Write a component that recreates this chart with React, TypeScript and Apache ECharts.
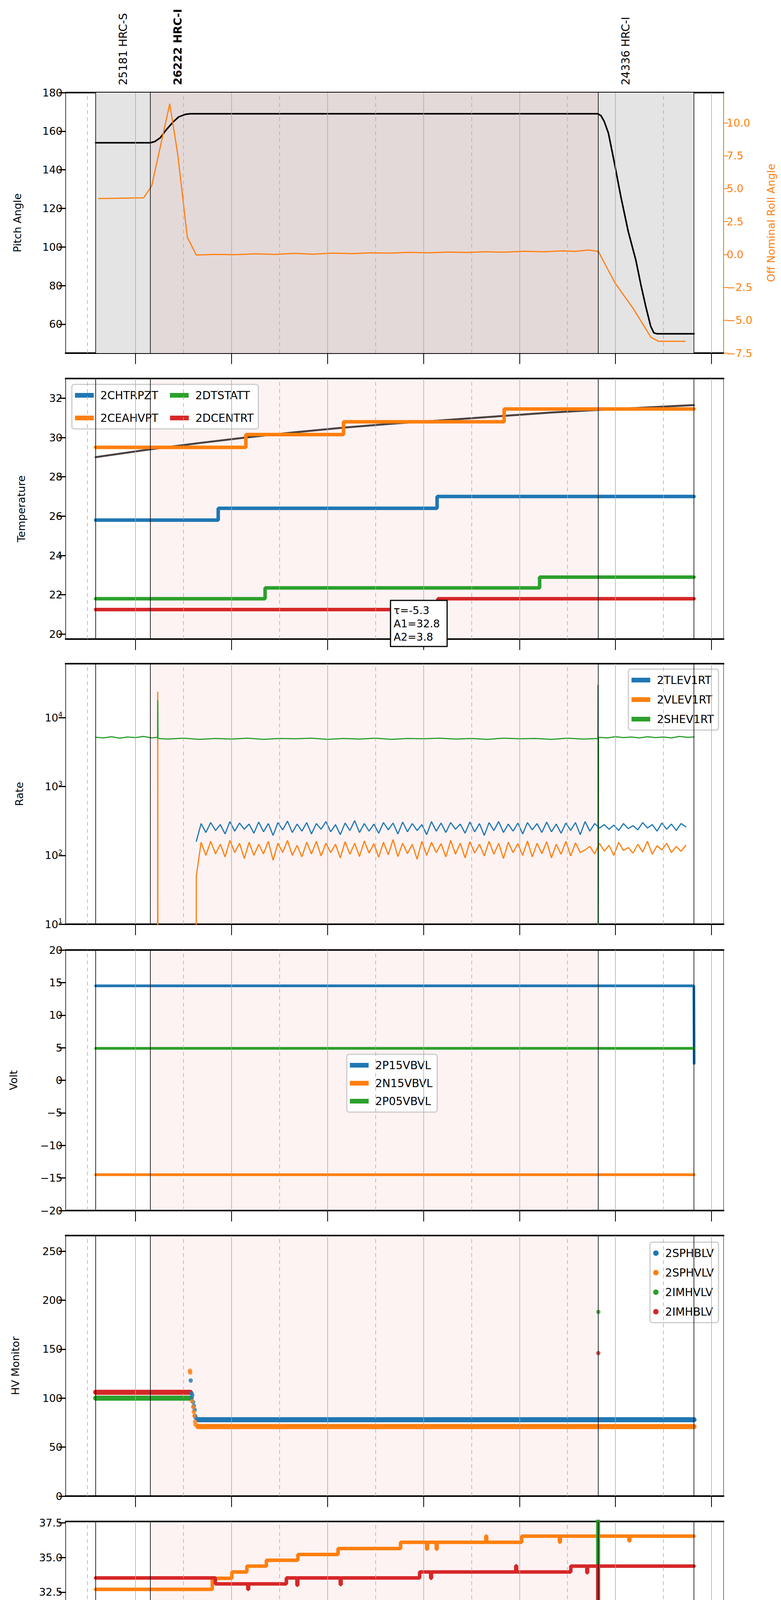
import React from "react";
import * as echarts from "echarts";

// ---- time axis (minutes after 00:00 on 2021-12-10) ----
const X_MIN = 76.3;
const X_MAX = 487.6;
const HOURS = [120, 180, 240, 300, 360, 420, 480];
const HALF_HOURS = [90, 150, 210, 270, 330, 390, 450];
const EVENT_LINES = [95.1, 129.3, 409.3, 469.1];
const PINK_SPAN = [129.3, 409.3];
const GRAY_SPAN = [95.1, 469.1];
const OBSIDS = [
  { t: 95.1, label: "25181 HRC-S", bold: false },
  { t: 129.3, label: "26222 HRC-I", bold: true },
  { t: 409.3, label: "24336 HRC-I", bold: false },
];

// ---- panel 1: pitch / roll ----
const pitch = [
  [95.1, 154], [129.2, 154], [132, 154.6], [135.5, 156.6], [139, 160.5], [143.3, 164.6], [147, 167.4],
  [151.1, 168.7], [154.2, 169], [409, 169], [411, 168], [413, 165], [415.6, 159], [419, 145], [423.4, 126],
  [428, 108], [432.8, 93], [436, 80], [439, 69], [442, 59], [444, 55.5], [446, 55], [469.1, 55],
];
const roll = [
  [97, 4.25], [125.1, 4.3], [130.1, 5.2], [141.4, 11.45], [146.4, 7.6], [150.2, 3.6], [152.4, 1.3], [158, -0.05],
  [170, 0.0], [182, -0.02], [195, 0.05], [207, 0.0], [219, 0.08], [231, 0.02], [243, 0.1], [255, 0.06],
  [267, 0.12], [279, 0.1], [291, 0.16], [303, 0.12], [315, 0.18], [327, 0.15], [339, 0.2], [351, 0.17],
  [363, 0.24], [375, 0.2], [387, 0.27], [395, 0.23], [403.1, 0.34], [409.3, 0.23], [419.7, -2.16],
  [431.3, -4.15], [442.2, -6.3], [446.9, -6.6], [463.5, -6.6],
];

// ---- panel 2: temperatures ----
const t2CHTRPZT = [[95.1, 25.8], [171.7, 26.4], [308.5, 27.0], [469.1, 27.0]];
const t2CEAHVPT = [[95.1, 29.5], [189, 30.15], [250, 30.8], [350.4, 31.45], [469.1, 31.45]];
const t2DTSTATT = [[95.1, 21.8], [201, 22.35], [372.6, 22.9], [469.1, 22.9]];
const t2DCENTRT = [[95.1, 21.25], [309, 21.8], [469.1, 21.8]];
const tempFit = [
  [95.1, 29.0], [129.2, 29.4], [160, 29.72], [189, 30.0], [220, 30.27], [250, 30.5], [280, 30.7],
  [309, 30.86], [350, 31.1], [380, 31.27], [409, 31.4], [440, 31.53], [469.1, 31.65],
];
const FIT_TEXT = ["τ=-5.3", "A1=32.8", "A2=3.8"];

// ---- panel 3: rates ----
const RATE_START = 158;
const RATE_STEP = 3;
const rateTLEV = [
  160, 290, 215, 300, 230, 280, 205, 310, 225, 295, 240, 285, 210, 305, 220, 290, 195, 300, 235, 315,
  215, 285, 225, 300, 205, 290, 240, 310, 220, 280, 200, 295, 230, 320, 215, 290, 225, 285, 210, 300,
  235, 295, 205, 305, 220, 290, 230, 280, 200, 310, 225, 295, 215, 300, 240, 285, 210, 305, 220, 290,
  195, 300, 230, 310, 215, 285, 225, 295, 205, 300, 235, 290, 215, 305, 220, 285, 210, 295, 230, 300,
  200, 310, 225, 290, 250, 280, 240, 275, 230, 290, 245, 270, 235, 300, 250, 280, 225, 295, 240, 285,
  230, 290, 260,
];
const rateVLEV = [
  50, 155, 100, 160, 105, 145, 95, 165, 110, 150, 90, 155, 100, 145, 105, 160, 85, 150, 110, 165,
  100, 140, 95, 155, 105, 160, 98, 150, 110, 145, 92, 158, 104, 150, 96, 162, 108, 148, 94, 155,
  102, 170, 96, 150, 106, 145, 88, 160, 100, 155, 110, 148, 95, 165, 104, 150, 92, 158, 108, 145,
  98, 160, 104, 150, 90, 155, 110, 148, 100, 162, 95, 150, 106, 158, 92, 145, 104, 160, 98, 152,
  110, 120, 135, 105, 150, 115, 140, 100, 155, 118, 130, 108, 145, 112, 160, 104, 138, 120, 150, 110,
  135, 115, 140,
];
const rateSHEV = [
  [95.1, 5200], [100, 5100], [105, 5300], [110, 5050], [115, 5250], [120, 5150], [125, 5350], [130, 5100],
  [133.8, 5200], [133.9, 18000], [134.1, 5000], [140, 4900], [150, 5050], [160, 4850], [170, 5000],
  [180, 4900], [190, 5050], [200, 4850], [210, 5000], [220, 4950], [230, 5050], [240, 4850], [250, 5000],
  [260, 4900], [270, 5050], [280, 4850], [290, 5000], [300, 4950], [310, 5050], [320, 4900], [330, 5000],
  [340, 4850], [350, 5050], [360, 4950], [370, 5000], [380, 4850], [390, 5050], [400, 4900], [409, 5000],
  [409.1, 30000], [409.2, 1], [409.4, 5200], [415, 5100], [420, 5300], [425, 5150], [430, 5250],
  [435, 5100], [440, 5300], [445, 5150], [450, 5250], [455, 5100], [460, 5350], [465, 5200], [469.1, 5250],
];
const VLEV_SPIKE = [[133.8, 1], [133.9, 24000], [134, 1], [157.9, 1]];

// ---- panel 4: voltages ----
const v2P15 = [[95.1, 14.5], [469, 14.5], [469.2, 2.6]];
const v2N15 = [[95.1, -14.5], [469.1, -14.5]];
const v2P05 = [[95.1, 4.9], [469.1, 4.9]];

// ---- panel 5: HV monitor ----
const hvSPHBLV = [[159, 78], [469.1, 78]];
const hvSPHVLV = [[159, 71], [469.1, 71]];
const hvIMHVLV = [[95.1, 100], [154.2, 100]];
const hvIMHBLV = [[95.1, 106], [154.2, 106]];
const dotsSPHBLV = [[154.5, 118], [155, 105], [155.2, 100], [155.5, 103], [156, 96], [156.5, 92], [157, 88], [157.3, 82], [157.6, 80]];
const dotsSPHVLV = [[154, 128], [154.2, 126], [155.4, 97], [156, 91], [156.4, 86], [156.8, 82], [157.2, 76], [157.5, 73]];
const dotsIMHVLV = [[409.3, 188]];
const dotsIMHBLV = [[409.3, 146]];

// ---- panel 6: detector temps ----
const dSPINATM = [[95.1, 20.3], [281, 21.0], [469.1, 21.0]];
const dSPHVATM = [
  [95.1, 32.7], [168, 33.5], [180.2, 33.96], [189.6, 34.38], [201.8, 34.8], [221.5, 35.22], [246.6, 35.65],
  [285.7, 36.1], [302, 35.6], [302.5, 36.1], [308, 35.6], [308.5, 36.1], [339, 36.55], [339.5, 36.1],
  [361.4, 36.54], [385, 36.1], [385.5, 36.54], [428.4, 36.2], [429, 36.54], [469.1, 36.54],
];
const dIMINATM = [
  [95.1, 21.7], [339, 22.42], [354, 21.7], [354.5, 22.42], [391, 21.7], [391.5, 22.42],
  [409, 60], [409.3, 22.42], [469.1, 22.42],
];
const dIMHVATM = [
  [95.1, 33.53], [169.9, 33.1], [190.2, 32.7], [190.7, 33.1], [214.3, 33.53], [220.9, 33.0], [221.4, 33.53],
  [248, 33.05], [248.5, 33.53], [297.6, 33.96], [304.5, 33.5], [305, 33.96], [357.7, 34.4], [358.2, 33.96],
  [392.1, 34.38], [402.1, 33.9], [402.6, 34.38], [409, -20], [409.3, 34.38], [469.1, 34.38],
];

// ---- panel 7: FEA temps ----
const fFHTRMZT = [[95.1, 24.62], [198, 25.2], [330.1, 25.8], [469.1, 25.8]];
const fFRADPYT = [[95.1, 20.19], [177.7, 20.72], [296.7, 21.25], [469.1, 21.25]];
const fFEPRATM = [[95.1, 26.17], [287.3, 26.97], [409, 60], [409.3, 26.97], [469.1, 26.97]];
const fFE00ATM = [
  [95.1, 23.95], [165.2, 24.28], [177.7, 23.75], [178.2, 24.28], [189.6, 23.3], [190.1, 24.28],
  [210.6, 23.95], [211.1, 24.28], [214.3, 23.95], [214.8, 24.28], [241.9, 24.5], [242.4, 24.28],
  [245.6, 24.95], [246.1, 24.28], [251.3, 25.3], [251.8, 24.28], [256, 24.61], [284.1, 24.95], [284.6, 24.61],
  [304.5, 24.95], [305, 24.61], [320.8, 22.3], [321.3, 24.61], [323.3, 24.95], [323.8, 24.61],
  [332.3, 24.3], [332.8, 24.61], [343.6, 25.3], [344.1, 24.61], [355.2, 24.95], [363.3, 24.6], [363.8, 24.95],
  [376.5, 24.3], [377, 24.95], [383.4, 25.3], [383.9, 24.95], [409, -20], [409.3, 24.95], [469.1, 24.95],
];

const C = { blue: "#1f77b4", orange: "#ff7f0e", green: "#2ca02c", red: "#d62728" };
const FONT = "DejaVu Sans";
const LEFT = 168;
const RIGHT = 147;
const PANEL_TOPS = [237, 969, 1699, 2432, 3163, 3895, 4627];
const PANEL_H = 667;

function hhmm(v: number) {
  return String(Math.round(v / 60)).padStart(2, "0") + "h";
}

export default function App() {
  const ref = React.useRef<HTMLDivElement>(null);

  React.useEffect(() => {
    document.body.style.margin = "0";
    if (!ref.current) return;
    const chart = echarts.init(ref.current, null, { renderer: "svg" });

    const grids = PANEL_TOPS.map(top => ({
      left: LEFT, right: RIGHT, top, height: PANEL_H, show: true,
      borderColor: "#000", borderWidth: 1, backgroundColor: "transparent",
    }));

    const xAxes: any[] = [];
    PANEL_TOPS.forEach((_, i) => {
      const last = i === PANEL_TOPS.length - 1;
      xAxes.push({
        type: "value", gridIndex: i, min: X_MIN, max: X_MAX, position: "bottom",
        axisLine: { onZero: false, lineStyle: { color: "#000", width: 4 } },
        axisTick: { customValues: HOURS, length: 28, lineStyle: { color: "#000", width: 2 } },
        axisLabel: last
          ? {
              customValues: [...HALF_HOURS, ...HOURS],
              fontFamily: FONT, color: "#000", margin: 8,
              formatter: (v: number) => (v % 60 === 0 ? "{a|" + hhmm(v) + "}" : "{b|30}"),
              rich: { a: { fontSize: 30, padding: [34, 0, 0, 0], fontFamily: FONT }, b: { fontSize: 15, fontFamily: FONT } },
            }
          : { show: false },
        splitLine: { show: false },
        name: last ? "2021-12-10 (344)" : "",
        nameLocation: "middle", nameGap: 88,
        nameTextStyle: { fontSize: 32, fontFamily: FONT, color: "#000" },
      });
    });
    PANEL_TOPS.forEach((_, i) => {
      xAxes.push({
        type: "value", gridIndex: i, min: X_MIN, max: X_MAX, position: "top",
        axisLine: { onZero: false, lineStyle: { color: "#000", width: 4 } },
        axisTick: { show: false }, axisLabel: { show: false }, splitLine: { show: false },
      });
    });

    const yBase = (i: number, min: number, max: number, vals: number[], name: string, gap: number, fmt?: (v: number) => string) => ({
      type: "value", gridIndex: i, min, max, name,
      nameLocation: "middle", nameGap: gap,
      nameTextStyle: { fontSize: 27, fontFamily: FONT, color: "#000" },
      axisLine: { show: true, lineStyle: { color: "#000", width: 1 } },
      axisTick: { customValues: vals, length: 18, lineStyle: { color: "#000", width: 3 } },
      axisLabel: { customValues: vals, fontSize: 27, fontFamily: FONT, color: "#000", formatter: fmt },
      splitLine: { show: false },
    });
    const dec1 = (v: number) => v.toFixed(1).replace("-", "\u2212");
    const yAxes: any[] = [
      yBase(0, 45, 180, [60, 80, 100, 120, 140, 160, 180], "Pitch Angle", 110),
      yBase(1, 19.75, 33, [20, 22, 24, 26, 28, 30, 32], "Temperature", 100),
      {
        type: "log", logBase: 10, gridIndex: 2, min: 10, max: 61000, name: "Rate",
        nameLocation: "middle", nameGap: 105,
        nameTextStyle: { fontSize: 27, fontFamily: FONT, color: "#000" },
        axisLine: { show: true, lineStyle: { color: "#000", width: 1 } },
        axisTick: { customValues: [10, 100, 1000, 10000], length: 18, lineStyle: { color: "#000", width: 3 } },
        axisLabel: {
          customValues: [10, 100, 1000, 10000], fontFamily: FONT, color: "#000",
          formatter: (v: number) => "{m|10}{s|" + Math.round(Math.log10(v)) + "}",
          rich: { m: { fontSize: 27, fontFamily: FONT }, s: { fontSize: 17, fontFamily: FONT, padding: [0, 0, 16, 0] } },
        },
        splitLine: { show: false },
      },
      yBase(3, -20, 20, [-20, -15, -10, -5, 0, 5, 10, 15, 20], "Volt", 120, (v: number) => String(v).replace("-", "\u2212")),
      yBase(4, 0, 266, [0, 50, 100, 150, 200, 250], "HV Monitor", 115),
      yBase(5, 18.8, 37.6, [20, 22.5, 25, 27.5, 30, 32.5, 35, 37.5], "Detector Temp", 122, dec1),
      yBase(6, 19.2, 28.45, [20, 22, 24, 26, 28], "FEA Temp", 95),
      {
        type: "value", gridIndex: 0, min: -7.5, max: 12.3, position: "right", name: "Off Nominal Roll Angle",
        nameLocation: "middle", nameGap: 108, nameRotate: 90,
        nameTextStyle: { fontSize: 27, fontFamily: FONT, color: C.orange },
        axisLine: { show: true, lineStyle: { color: C.orange, width: 1 } },
        axisTick: { customValues: [-7.5, -5, -2.5, 0, 2.5, 5, 7.5, 10], length: 12, lineStyle: { color: C.orange, width: 2 } },
        axisLabel: { customValues: [-7.5, -5, -2.5, 0, 2.5, 5, 7.5, 10], fontSize: 27, fontFamily: FONT, color: C.orange, formatter: dec1 },
        splitLine: { show: false },
      },
    ];

    const series: any[] = [];
    // background shading, grid lines and event lines
    PANEL_TOPS.forEach((_, i) => {
      const areas: any[] = [];
      if (i === 0) areas.push([{ xAxis: GRAY_SPAN[0], itemStyle: { color: "#e4e4e4" } }, { xAxis: GRAY_SPAN[1] }]);
      areas.push([{ xAxis: PINK_SPAN[0], itemStyle: { color: "rgba(240,80,80,0.07)" } }, { xAxis: PINK_SPAN[1] }]);
      series.push({
        type: "line", xAxisIndex: i, yAxisIndex: i, data: [], silent: true, z: 1,
        markArea: { silent: true, data: areas },
        markLine: {
          silent: true, symbol: ["none", "none"], label: { show: false }, animation: false,
          data: [
            ...HOURS.map(v => ({ xAxis: v, lineStyle: { color: "#aaaaaa", width: 1.5, type: "solid" } })),
            ...HALF_HOURS.map(v => ({ xAxis: v, lineStyle: { color: "#aaaaaa", width: 1.5, type: [10, 8] } })),
            ...EVENT_LINES.map(v => ({ xAxis: v, lineStyle: { color: "#000", width: 1.6, type: "solid" } })),
          ],
        },
      });
    });

    const line = (i: number, name: string, data: any, color: string, width: number, extra: any = {}) => ({
      type: "line", name, data, xAxisIndex: i, yAxisIndex: i, showSymbol: false, symbol: "none",
      lineStyle: { color, width, cap: "round" }, itemStyle: { color }, z: 3, ...extra,
    });

    // panel 1
    series.push(line(0, "pitch", pitch, "#000", 4));
    series.push({ ...line(0, "roll", roll, C.orange, 3), yAxisIndex: 7 });
    // panel 2
    series.push(line(1, "fit", tempFit, "#4a4040", 5, { z: 2 }));
    series.push(line(1, "2CHTRPZT", t2CHTRPZT, C.blue, 9, { step: "end" }));
    series.push(line(1, "2CEAHVPT", t2CEAHVPT, C.orange, 9, { step: "end" }));
    series.push(line(1, "2DTSTATT", t2DTSTATT, C.green, 9, { step: "end" }));
    series.push(line(1, "2DCENTRT", t2DCENTRT, C.red, 9, { step: "end" }));
    // panel 3
    const tlev = rateTLEV.map((v, k) => [RATE_START + k * RATE_STEP, v]);
    const vlev = [...VLEV_SPIKE, ...rateVLEV.map((v, k) => [RATE_START + k * RATE_STEP, v])];
    series.push(line(2, "2TLEV1RT", tlev, C.blue, 3));
    series.push(line(2, "2VLEV1RT", vlev, C.orange, 3));
    series.push(line(2, "2SHEV1RT", rateSHEV, C.green, 3));
    // panel 4
    series.push(line(3, "2P15VBVL", v2P15, C.blue, 7));
    series.push(line(3, "2N15VBVL", v2N15, C.orange, 7));
    series.push(line(3, "2P05VBVL", v2P05, C.green, 7));
    // panel 5
    const hv = [
      ["2SPHBLV", hvSPHBLV, dotsSPHBLV, C.blue],
      ["2SPHVLV", hvSPHVLV, dotsSPHVLV, C.orange],
      ["2IMHVLV", hvIMHVLV, dotsIMHVLV, C.green],
      ["2IMHBLV", hvIMHBLV, dotsIMHBLV, C.red],
    ] as const;
    hv.forEach(([name, ln, dots, color]) => {
      series.push(line(4, name, ln, color, 13));
      series.push({ type: "scatter", name, data: dots, xAxisIndex: 4, yAxisIndex: 4, symbolSize: 11, itemStyle: { color }, z: 3 });
    });
    // panel 6
    series.push(line(5, "2SPINATM", dSPINATM, C.blue, 9, { step: "end" }));
    series.push(line(5, "2SPHVATM", dSPHVATM, C.orange, 9, { step: "end" }));
    series.push(line(5, "2IMINATM", dIMINATM, C.green, 9, { step: "end" }));
    series.push(line(5, "2IMHVATM", dIMHVATM, C.red, 9, { step: "end" }));
    // panel 7
    series.push(line(6, "2FHTRMZT", fFHTRMZT, C.blue, 9, { step: "end" }));
    series.push(line(6, "2FRADPYT", fFRADPYT, C.orange, 9, { step: "end" }));
    series.push(line(6, "2FEPRATM", fFEPRATM, C.green, 9, { step: "end" }));
    series.push(line(6, "2FE00ATM", fFE00ATM, C.red, 9, { step: "end" }));

    const legendBase = {
      backgroundColor: "rgba(255,255,255,0.85)", borderColor: "#cccccc", borderWidth: 3, borderRadius: 6,
      padding: [14, 12, 14, 8], itemWidth: 48, itemHeight: 12, icon: "rect",
      textStyle: { fontSize: 28, fontFamily: FONT, color: "#000", padding: [0, 0, 0, 12] },
    };
    const legends: any[] = [
      { ...legendBase, data: ["2CHTRPZT", "2DTSTATT", "2CEAHVPT", "2DCENTRT"], left: 184, top: 984, width: 560, itemGap: 30 },
      { ...legendBase, data: ["2TLEV1RT", "2VLEV1RT", "2SHEV1RT"], orient: "vertical", right: 160, top: 1713, itemGap: 22 },
      { ...legendBase, data: ["2P15VBVL", "2N15VBVL", "2P05VBVL"], orient: "vertical", left: 888, top: 2699, itemGap: 18 },
      { ...legendBase, data: ["2SPHBLV", "2SPHVLV", "2IMHVLV", "2IMHBLV"], orient: "vertical", right: 160, top: 3180, itemGap: 22, icon: "circle", itemWidth: 14, itemHeight: 14 },
      { ...legendBase, data: ["2SPINATM", "2SPHVATM", "2IMINATM", "2IMHVATM"], orient: "vertical", right: 160, top: 4141, itemGap: 22 },
      { ...legendBase, data: ["2FHTRMZT", "2FRADPYT", "2FEPRATM", "2FE00ATM"], orient: "vertical", right: 160, top: 4642, itemGap: 24 },
    ];

    const xPix = (t: number) => LEFT + ((t - X_MIN) / (X_MAX - X_MIN)) * (2000 - LEFT - RIGHT);
    const graphic: any[] = [
      ...OBSIDS.map(o => ({
        type: "text", x: xPix(o.t) + 70, y: 218, rotation: Math.PI / 2,
        style: {
          text: o.label, fontSize: 28, fontFamily: FONT, fill: "#000",
          fontWeight: o.bold ? "bold" : "normal", align: "left", verticalAlign: "middle",
        },
      })),
      {
        type: "rect", z: 100, x: 1000, y: 1537, shape: { x: 0, y: 0, width: 145, height: 118 },
        style: { fill: "#fff", stroke: "#000", lineWidth: 3 },
      },
      {
        type: "text", z: 101, x: 1008, y: 1545,
        style: { text: FIT_TEXT.join("\n"), fontSize: 27, lineHeight: 34, fontFamily: FONT, fill: "#000" },
      },
    ];

    chart.setOption({
      animation: false,
      backgroundColor: "#fff",
      grid: grids,
      xAxis: xAxes,
      yAxis: yAxes,
      legend: legends,
      series,
      graphic,
    });
    return () => chart.dispose();
  }, []);

  return <div ref={ref} style={{ width: 2000, height: 5400 }} />;
}
